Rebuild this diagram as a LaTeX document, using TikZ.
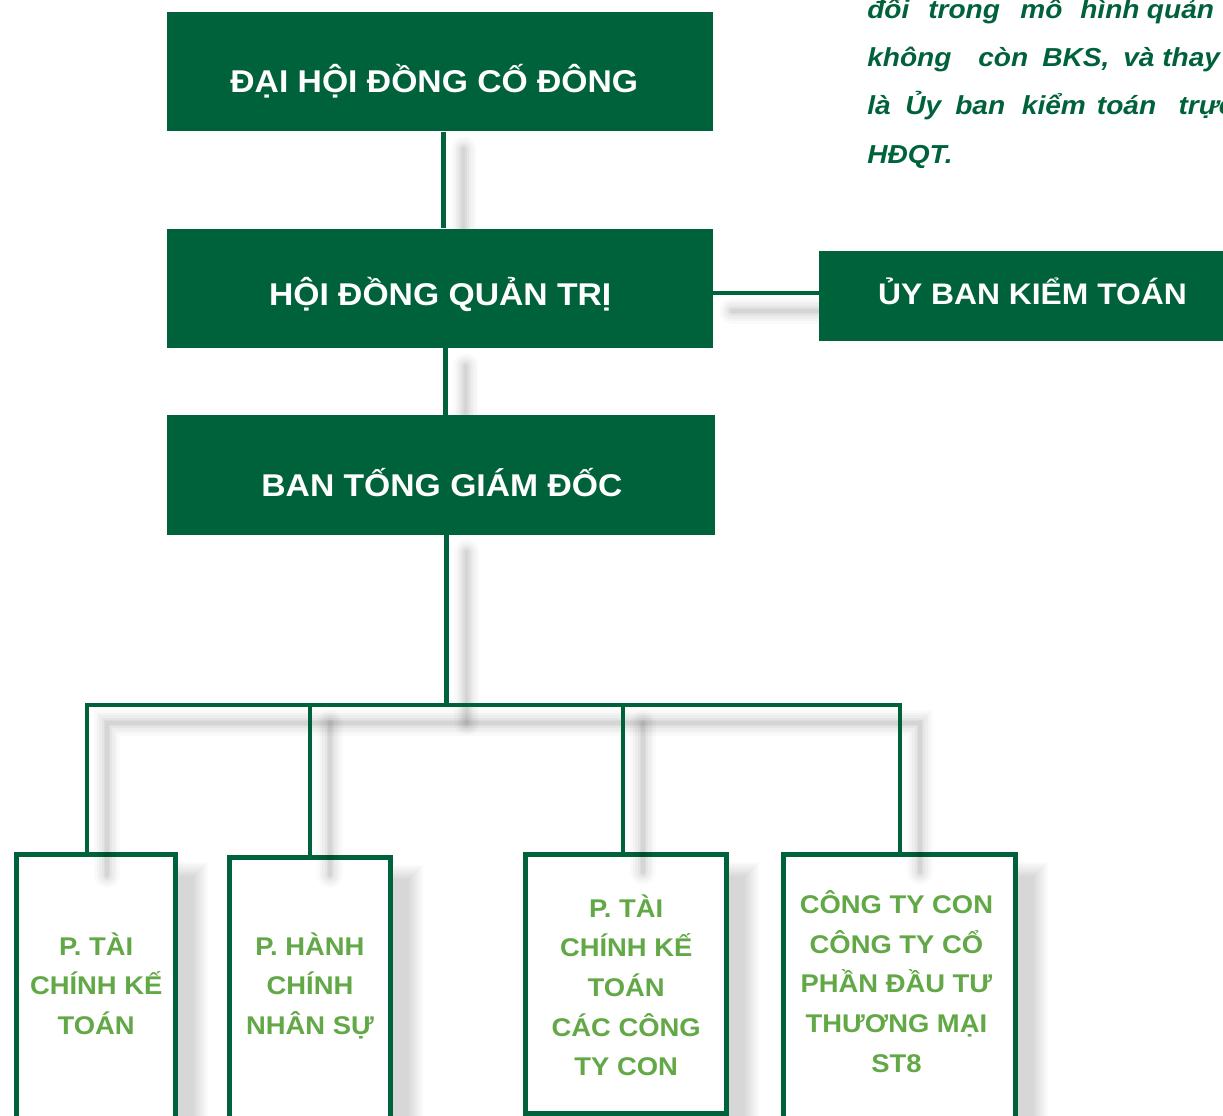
\documentclass[tikz,border=0pt]{standalone}
\usepackage{fontspec}
\setmainfont{Liberation Sans}
\newfontfamily\hfont[FakeStretch=1.07]{Liberation Sans}
\newfontfamily\nfont[FakeStretch=1.08]{Liberation Sans}
\usetikzlibrary{fit}
\definecolor{dkgreen}{HTML}{00623A}
\definecolor{ltgreen}{HTML}{62A846}
\newcommand\softline[1]{%
  \foreach \w/\o in {19pt/0.018,15pt/0.022,11.5pt/0.026,8pt/0.03,5pt/0.034,2.5pt/0.03}{%
    \draw[black,opacity=\o,line width=\w,line cap=round,shift={(20,18)}] #1;}}
\begin{document}
\begin{tikzpicture}[x=0.75pt,y=-0.75pt,
  darkbox/.style={fill=dkgreen,draw=none,inner sep=0pt},
  subbox/.style={fill=white,draw=dkgreen,line width=3.6pt,inner sep=0pt},
  headtext/.style={text=white,font=\hfont\bfseries\fontsize{23.6}{28}\selectfont,anchor=base,inner sep=0pt},
  subtext/.style={text=ltgreen,font=\hfont\bfseries\fontsize{19.2}{29.8}\selectfont,anchor=base,inner sep=0pt},
  notetext/.style={text=dkgreen,font=\nfont\bfseries\itshape\fontsize{19.5}{36}\selectfont,anchor=base west,inner sep=0pt},
  link/.style={draw=dkgreen,line width=3.6pt},
]
\useasboundingbox (0,0) rectangle (1223,1116);
\clip (0,0) rectangle (1223,1116);
\fill[white] (0,0) rectangle (1223,1116);

% soft shadows of the lower boxes
\foreach \a/\b/\c/\d in {14/852/178/1140, 227/855/393/1140, 523/852/729/1116, 781/852/1018/1140}{
  \foreach \i in {0,2,...,14}{
    \fill[black,opacity=0.018] (\a+10+\i,\b+10+\i) rectangle (\c+30-\i,\d+30-\i);
  }
}

% lower boxes
\node[subbox,fit={(16.4,854.4) (175.6,1140)}] (b1) {};
\node[subbox,fit={(229.4,857.4) (390.6,1140)}] (b2) {};
\node[subbox,fit={(525.4,854.4) (726.6,1113.6)}] (b3) {};
\node[subbox,fit={(783.4,854.4) (1015.6,1140)}] (b4) {};

% soft shadows of the connectors
\softline{(443.5,131) -- (443.5,229)}
\softline{(445.8,348) -- (445.8,415)}
\softline{(446.5,534) -- (446.5,705)}
\softline{(712,293) -- (819,293)}
\softline{(87,857) -- (87,705) -- (900,705) -- (900,854)}
\softline{(310,705) -- (310,857)}
\softline{(623,705) -- (623,854)}

% upper boxes
\node[darkbox,fit={(167,12.5) (712.6,131.4)}] (dhdcd) {};
\node[darkbox,fit={(167,228.6) (712.6,347.5)}] (hdqt) {};
\node[darkbox,fit={(167,415) (715,534.6)}] (btgd) {};
\node[darkbox,fit={(819,250.7) (1240,340.7)}] (ubkt) {};

% connector guide coordinates
\coordinate (ca) at (443.5,0);
\coordinate (cb) at (445.8,0);
\coordinate (cy) at (0,293);
\coordinate (cc) at (446.5,705);
\coordinate (d1) at (87,705);
\coordinate (d2) at (310,705);
\coordinate (d3) at (623,705);
\coordinate (d4) at (900,705);

% connectors
\draw[link] (dhdcd.south -| ca) -- (hdqt.north -| ca);
\draw[link] (hdqt.south -| cb) -- (btgd.north -| cb);
\draw[link] (hdqt.east |- cy) -- (ubkt.west |- cy);
\draw[link] (btgd.south -| cc) -- (cc);
\draw[link] (b1.north -| d1) |- (d4) -- (b4.north -| d4);
\draw[link] (d2) -- (b2.north -| d2);
\draw[link] (d3) -- (b3.north -| d3);

% texts of upper boxes
\node[headtext] (t1) at (434.3,92.9) {ĐẠI HỘI ĐỒNG CỐ ĐÔNG};
\node[headtext] (t2) at (440.2,305.4) {HỘI ĐỒNG QUẢN TRỊ};
\node[headtext] (t3) at (441.9,496.4) {BAN TỐNG GIÁM ĐỐC};
\node[headtext,font=\hfont\bfseries\fontsize{22.3}{28}\selectfont] (t4) at (1032.5,304) {ỦY BAN KIỂM TOÁN};

% texts of lower boxes
\node[subtext] (s1) at (96.2,955) {\begin{tabular}[t]{@{}c@{}}P. TÀI\\CHÍNH KẾ\\TOÁN\end{tabular}};
\node[subtext] (s2) at (310,955) {\begin{tabular}[t]{@{}c@{}}P. HÀNH\\CHÍNH\\NHÂN SỰ\end{tabular}};
\node[subtext] (s3) at (626.2,917) {\begin{tabular}[t]{@{}c@{}}P. TÀI\\CHÍNH KẾ\\TOÁN\\CÁC CÔNG\\TY CON\end{tabular}};
\node[subtext] (s4) at (896.4,913.3) {\begin{tabular}[t]{@{}c@{}}CÔNG TY CON\\CÔNG TY CỔ\\PHẦN ĐẦU TƯ\\THƯƠNG MẠI\\ST8\end{tabular}};

% note at the top right (cut by the right edge, as in the reference)
\node[notetext] (n1) at (867,18.3) {\makebox[45.75pt][l]{đổi}\makebox[69pt][l]{trong}\makebox[45pt][l]{mô}\makebox[50pt][l]{hình}quản};
\node[notetext] (n2) at (867,66.7) {\makebox[83.25pt][l]{không}\makebox[48pt][l]{còn}\makebox[60.75pt][l]{BKS,}\makebox[29.25pt][l]{và}thay};
\node[notetext] (n3) at (867,115) {\makebox[28.5pt][l]{là}\makebox[37.5pt][l]{Ủy}\makebox[50pt][l]{ban}\makebox[56.25pt][l]{kiểm}\makebox[61.2pt][l]{toán}trực};
\node[notetext] (n4) at (867,163.3) {HĐQT.};
\end{tikzpicture}
\end{document}
